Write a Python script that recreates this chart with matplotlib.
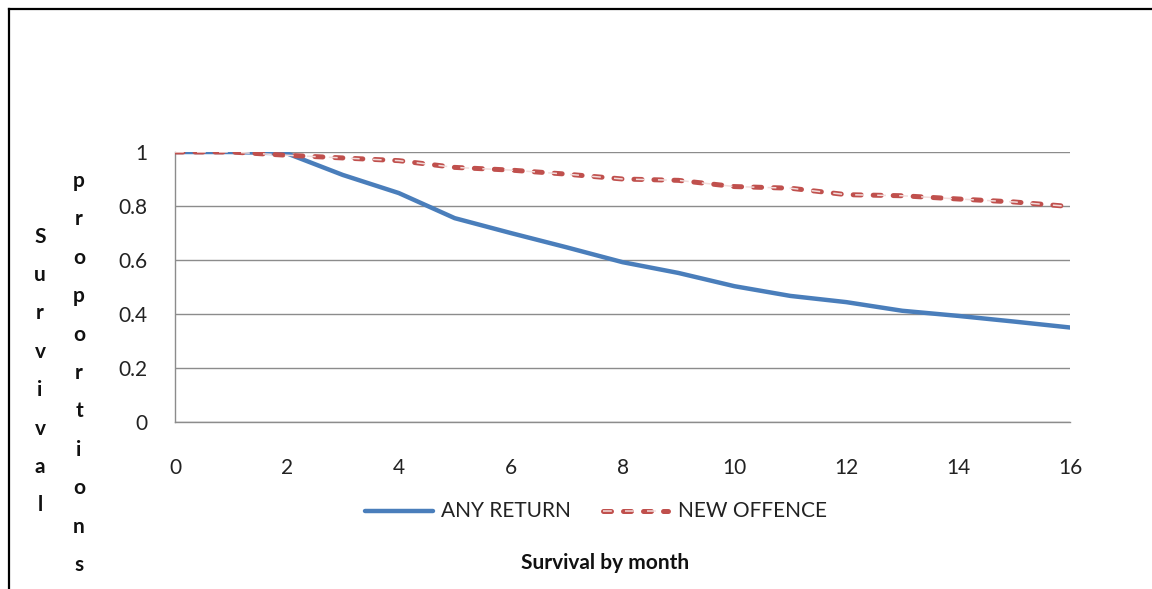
import matplotlib.pyplot as plt
from matplotlib.lines import Line2D

months = list(range(0, 17))
any_return = [1.0, 1.0, 0.995, 0.915, 0.848, 0.755, 0.70, 0.647, 0.592, 0.552,
              0.503, 0.467, 0.444, 0.412, 0.393, 0.372, 0.35]
new_offence = [1.0, 1.0, 0.988, 0.978, 0.968, 0.943, 0.933, 0.918, 0.900, 0.895,
               0.872, 0.866, 0.842, 0.838, 0.826, 0.815, 0.798]
x_ticks = [0, 2, 4, 6, 8, 10, 12, 14, 16]
y_ticks = [0, 0.2, 0.4, 0.6, 0.8, 1]
y_tick_labels = ["0", "0.2", "0.4", "0.6", "0.8", "1"]

plt.rcParams['font.family'] = ['Lato', 'DejaVu Sans']

fig = plt.figure(figsize=(11.52, 5.89), dpi=100)
ax = fig.add_axes([175/1152, 1-422/589, (1070-175)/1152, (422-152)/589])

blue = '#4A7EBB'
red = '#C0504D'
pale = '#F2DCDB'

ax.plot(months, any_return, color=blue, lw=3.2, solid_capstyle='round', zorder=3)
# dashed red line with a pale core
ax.plot(months, new_offence, color=red, lw=3.6, dashes=(1.6, 2.4),
        dash_capstyle='round', zorder=4)
ax.plot(months, new_offence, color=pale, lw=1.1, dashes=(5.76, 8.64),
        dash_capstyle='butt', zorder=5)

ax.set_xlim(0, 16)
ax.set_ylim(0, 1)
ax.set_xticks(x_ticks)
ax.set_yticks(y_ticks)
ax.set_yticklabels(y_tick_labels)
ax.tick_params(length=0, labelsize=15, colors='#222222')
ax.tick_params(axis='x', pad=26)
ax.tick_params(axis='y', pad=20)
ax.grid(axis='y', color='#8C8C8C', lw=1)
ax.set_axisbelow(True)
for s in ['top', 'right']:
    ax.spines[s].set_visible(False)
for s in ['left', 'bottom']:
    ax.spines[s].set_color('#8C8C8C')
    ax.spines[s].set_linewidth(1)

# legend drawn by hand under the axis
leg_y = 1 - 511/589
fig.add_artist(Line2D([365/1152, 433/1152], [leg_y, leg_y], color=blue, lw=3.2,
                      solid_capstyle='round'))
fig.text(441/1152, leg_y, "ANY RETURN", fontsize=15, va='center', color='#222222')
fig.add_artist(Line2D([603/1152, 668/1152], [leg_y, leg_y], color=red, lw=3.6,
                      dashes=(1.6, 2.4), dash_capstyle='round'))
fig.add_artist(Line2D([603/1152, 668/1152], [leg_y, leg_y], color=pale, lw=1.1,
                      dashes=(5.76, 8.64), dash_capstyle='butt'))
fig.text(678/1152, leg_y, "NEW OFFENCE", fontsize=15, va='center', color='#222222')

fig.text(605/1152, 1 - 563/589, "Survival by month", fontsize=15, fontweight='bold',
         ha='center', va='center', color='#111111')

# stacked vertical y label, one letter per line
fig.text(40/1152, 1 - 371/589, "\n".join("Survival"), fontsize=15, fontweight='bold',
         ha='center', va='center', linespacing=2.15, color='#111111')
fig.text(79/1152, 1 - 373/589, "\n".join("proportions"), fontsize=15, fontweight='bold',
         ha='center', va='center', linespacing=2.15, color='#111111')

# outer frame edges
fig.add_artist(Line2D([9/1152, 1], [1 - 9/589, 1 - 9/589], color='black', lw=1.6))
fig.add_artist(Line2D([9/1152, 9/1152], [0, 1 - 9/589], color='black', lw=1.6))

fig.savefig('out.png', dpi=100)
